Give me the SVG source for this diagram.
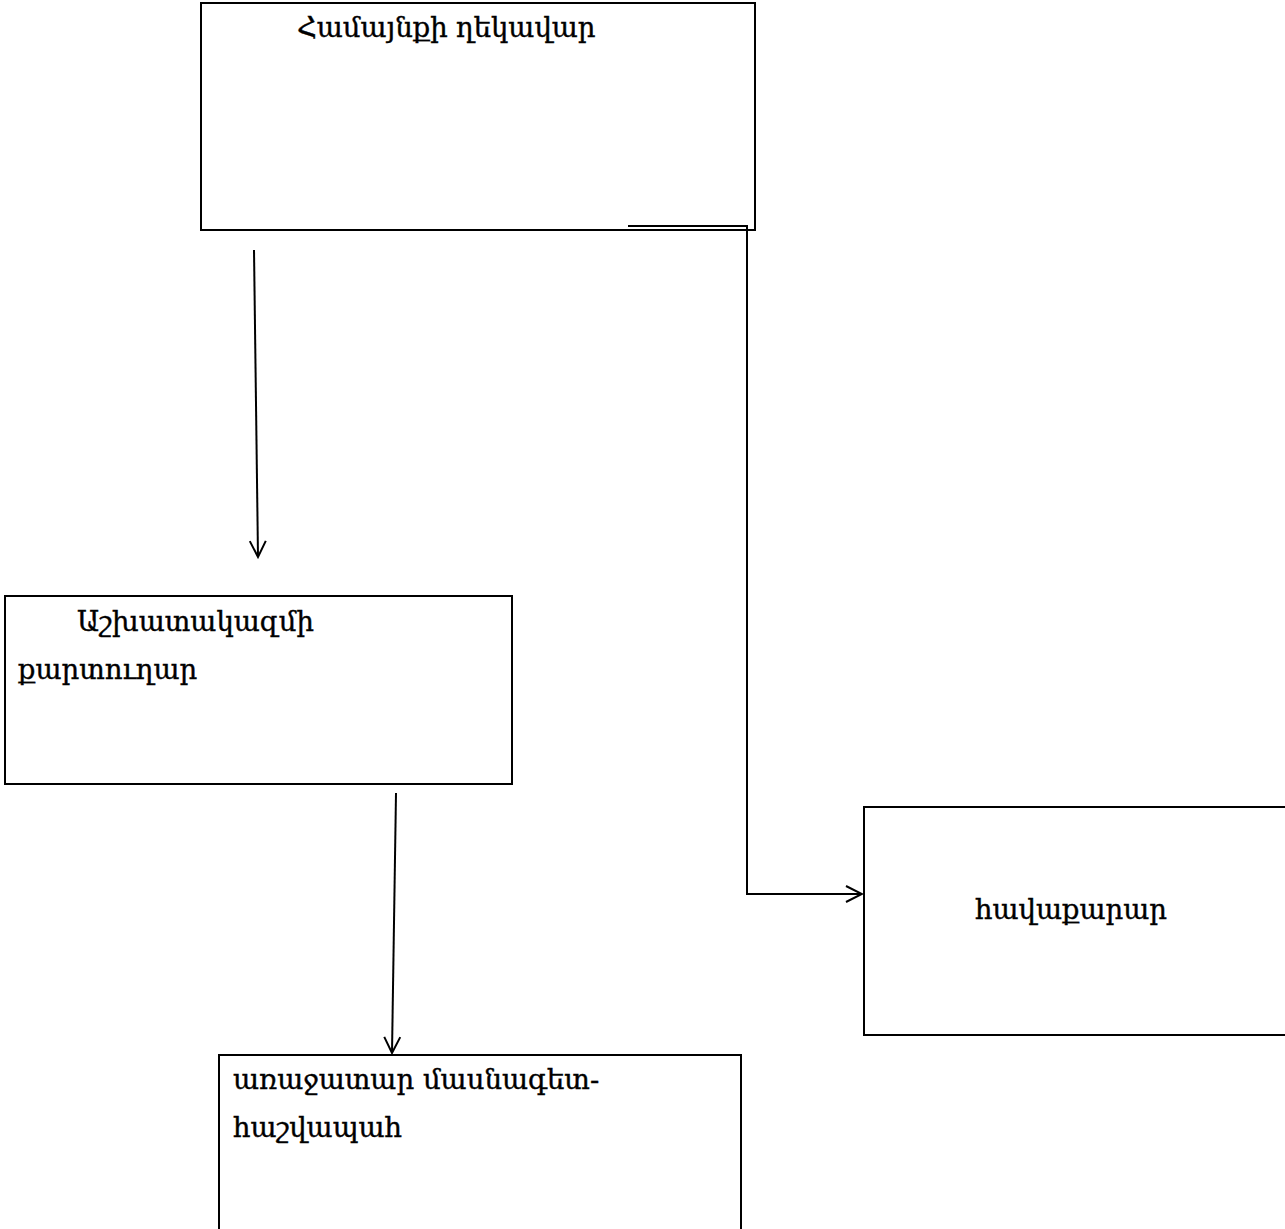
<svg xmlns="http://www.w3.org/2000/svg" width="1285" height="1229" viewBox="0 0 1285 1229">
<defs>
<style>
.box{fill:#fff;stroke:#000;stroke-width:2}
.t{font-family:"DejaVu Serif","Noto Sans",serif;font-size:27.5px;fill:#000;stroke:#000;stroke-width:0.4}
.c{fill:none;stroke:#000;stroke-width:2}
</style>
<marker id="ah" viewBox="0 0 20 20" refX="18" refY="10" markerWidth="20" markerHeight="20" markerUnits="userSpaceOnUse" orient="auto">
<path d="M2,2 L18,10 L2,18" fill="none" stroke="#000" stroke-width="2"/>
</marker>
</defs>
<rect width="1285" height="1229" fill="#fff"/>
<g id="n1"><rect class="box" x="201" y="3" width="554" height="227"/><text class="t" x="297" y="37">Համայնքի ղեկավար</text></g>
<g id="n2"><rect class="box" x="5" y="596" width="507" height="188"/><text class="t" x="77" y="631">Աշխատակազմի</text><text class="t" x="18" y="679">քարտուղար</text></g>
<g id="n3"><rect class="box" x="864" y="807" width="430" height="228"/><text class="t" x="975" y="919">հավաքարար</text></g>
<g id="n4"><rect class="box" x="219" y="1055" width="522" height="200"/><text class="t" x="233" y="1089">առաջատար մասնագետ-</text><text class="t" x="233" y="1137">հաշվապահ</text></g>
<g id="connectors">
<path class="c" d="M254,250 L258,557" marker-end="url(#ah)"/>
<path class="c" d="M396,793 L392,1053" marker-end="url(#ah)"/>
<path class="c" d="M628,226 L747,226 L747,894 L862,894" marker-end="url(#ah)"/>
</g>
</svg>
